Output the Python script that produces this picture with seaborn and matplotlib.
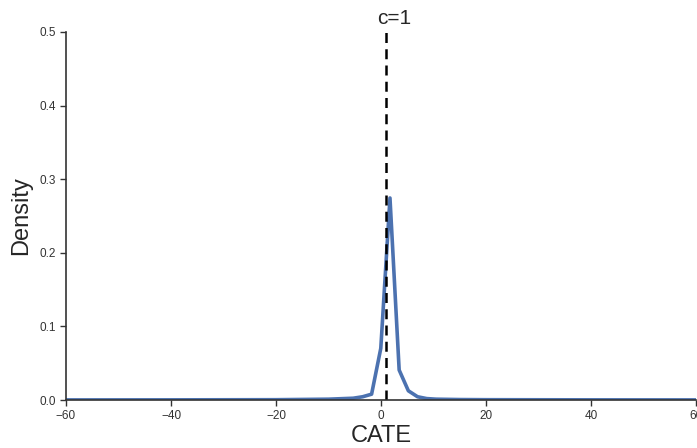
import matplotlib
matplotlib.use("Agg")
import matplotlib.pyplot as plt
import seaborn as sns
import pandas as pd

cate_x = [-65.0, -40.0, -20.0, -10.0, -5.3, -3.5, -1.8, -0.05, 1.7, 3.45, 5.2, 6.95, 8.7, 10.5, 15.0, 20.0, 40.0, 65.0]
density = [0.0002, 0.0003, 0.0005, 0.0012, 0.0025, 0.0045, 0.008, 0.0703, 0.2745, 0.0408, 0.0126, 0.0045, 0.002, 0.0012, 0.0007, 0.0005, 0.0003, 0.0002]
cutoff = 1
cutoff_label = "c=1"
x_ticks = [-60, -40, -20, 0, 20, 40, 60]
y_ticks = [0.0, 0.1, 0.2, 0.3, 0.4, 0.5]

sns.set_theme(style="ticks")
plt.rcParams['font.family'] = ['Liberation Sans', 'DejaVu Sans']

fig = plt.figure(figsize=(6.97, 4.48), dpi=100)
ax = fig.add_axes([0.0947, 0.107, 0.904, 0.8216])

df = pd.DataFrame({"CATE": cate_x, "Density": density})
sns.lineplot(data=df, x="CATE", y="Density", ax=ax, color="#4c72b0", linewidth=2.6)
ax.plot([cutoff, cutoff], [0, 0.5], color="black", linestyle="--", linewidth=1.8, dashes=(4, 2.5))
ax.text(cutoff + 1.5, 0.506, cutoff_label, ha="center", va="bottom", fontsize=15, color="#262626")

ax.set_xlim(-60, 60)
ax.set_ylim(0, 0.5)
ax.set_xticks(x_ticks)
ax.set_yticks(y_ticks)
ax.set_xticklabels([str(t).replace("-", "\u2212") for t in x_ticks])
ax.set_yticklabels([f"{t:.1f}" for t in y_ticks])
ax.tick_params(labelsize=8.5, colors="#333333", length=4, width=1)
ax.set_xlabel("CATE", fontsize=17, color="#262626", labelpad=1.5)
ax.set_ylabel("Density", fontsize=17, color="#262626", labelpad=5)
for s in ["left", "bottom"]:
    ax.spines[s].set_color("#333333")
    ax.spines[s].set_linewidth(1.2)
sns.despine(ax=ax)

fig.savefig("out.png", dpi=100)
